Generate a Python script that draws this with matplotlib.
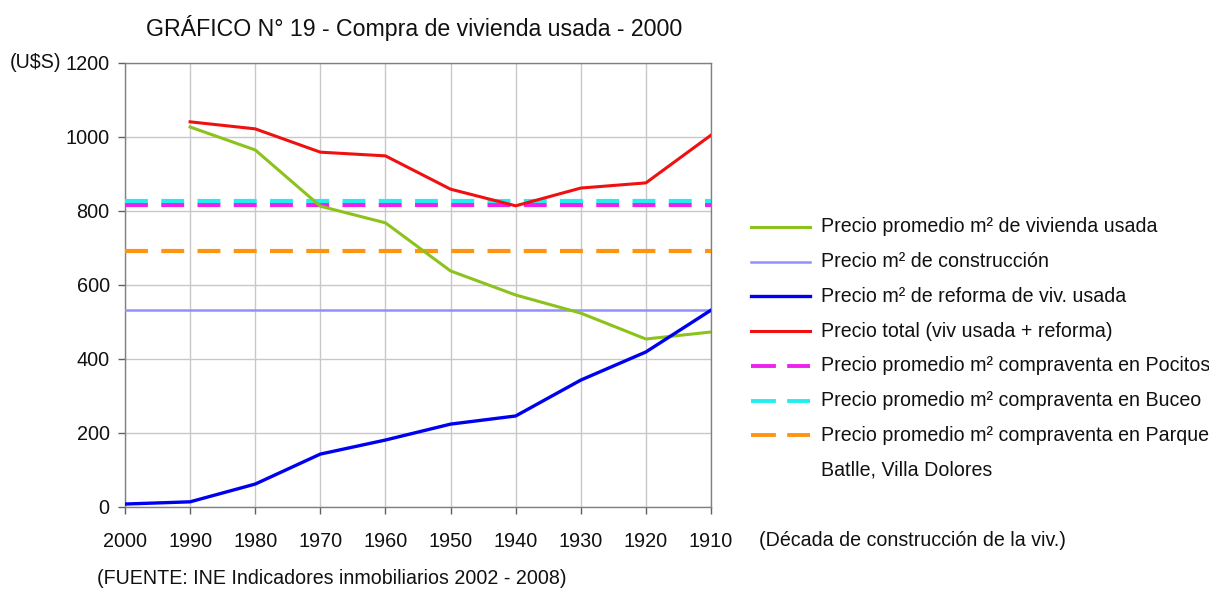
import matplotlib
matplotlib.use("Agg")
import matplotlib.pyplot as plt
from matplotlib.lines import Line2D

plt.rcParams['font.family'] = ['Liberation Sans', 'DejaVu Sans']

# Decade of construction (categorical axis, newest to oldest)
decades = ["2000", "1990", "1980", "1970", "1960", "1950", "1940", "1930", "1920", "1910"]

# Average price per m2 of used housing (starts at 1990)
precio_usada = [None, 1027, 965, 813, 768, 638, 573, 524, 454, 473]
# Price per m2 of renovation of used housing
precio_reforma = [8, 14, 62, 143, 181, 224, 246, 343, 419, 532]
# Total price (used housing + renovation, starts at 1990)
precio_total = [None, 1041, 1022, 959, 949, 859, 814, 862, 876, 1005]

# Constant reference levels
precio_construccion = 532
compraventa_pocitos = 816
compraventa_buceo = 827
compraventa_parque_batlle = 692

yticks = [0, 200, 400, 600, 800, 1000, 1200]

W, H = 1209, 589
fig = plt.figure(figsize=(W / 100, H / 100), dpi=100)
ax = fig.add_axes([125 / W, 1 - 507 / H, (711 - 125) / W, (507 - 63) / H])

x = list(range(len(decades)))
n = len(decades)

def valid(series):
    pts = [(i, v) for i, v in zip(x, series) if v is not None]
    return [p[0] for p in pts], [p[1] for p in pts]

c_green = "#8cc21c"
c_constr = "#9090ff"
c_blue = "#0000f0"
c_red = "#f01010"
c_mag = "#ee22ee"
c_cyan = "#22eeee"
c_orange = "#ff9410"

dash = (5.5, 3.2)

ax.plot([0, n - 1], [precio_construccion] * 2, color=c_constr, lw=1.8, zorder=3)
ax.plot([0, n - 1], [compraventa_parque_batlle] * 2, color=c_orange, lw=3.0,
        dashes=dash, zorder=3)
ax.plot([0, n - 1], [compraventa_pocitos] * 2, color=c_mag, lw=3.0,
        dashes=dash, zorder=3)
ax.plot([0, n - 1], [compraventa_buceo] * 2, color=c_cyan, lw=3.0,
        dashes=dash, zorder=3)

gx, gy = valid(precio_usada)
ax.plot(gx, gy, color=c_green, lw=2.2, zorder=4)
ax.plot(x, precio_reforma, color=c_blue, lw=2.4, zorder=4)
rx, ry = valid(precio_total)
ax.plot(rx, ry, color=c_red, lw=2.2, zorder=4)

ax.set_xlim(0, n - 1)
ax.set_ylim(0, 1200)
ax.set_xticks(x)
ax.set_xticklabels(decades)
ax.set_yticks(yticks)
ax.set_yticklabels([str(v) for v in yticks])
ax.grid(True, color="#c8c8c8", lw=1.0)
ax.set_axisbelow(True)
for s in ax.spines.values():
    s.set_color("#808080")
    s.set_linewidth(1.0)
ax.tick_params(axis="both", direction="out", length=5, width=1, color="#606060",
               labelsize=14.3, labelcolor="#111111")
ax.tick_params(axis="x", pad=13)
ax.tick_params(axis="y", pad=6)

fs = 14.1
fig.text(414 / W, 1 - 28 / H, "GRÁFICO N° 19 - Compra de vivienda usada - 2000",
         ha="center", va="center", fontsize=16.7, color="#111111")
fig.text(10 / W, 1 - 62 / H, "(U$S)", ha="left", va="center", fontsize=fs, color="#111111")
fig.text(759 / W, 1 - 540 / H, "(Década de construcción de la viv.)", ha="left",
         va="center", fontsize=fs, color="#111111")
fig.text(97 / W, 1 - 578 / H, "(FUENTE: INE Indicadores inmobiliarios 2002 - 2008)",
         ha="left", va="center", fontsize=fs, color="#111111")

# Legend drawn in figure pixel coordinates
leg_dash = (6.4, 2.9)
legend_rows = [
    ("Precio promedio m² de vivienda usada", c_green, None, 2.2),
    ("Precio m² de construcción", c_constr, None, 1.8),
    ("Precio m² de reforma de viv. usada", c_blue, None, 2.4),
    ("Precio total (viv usada + reforma)", c_red, None, 2.2),
    ("Precio promedio m² compraventa en Pocitos", c_mag, leg_dash, 2.8),
    ("Precio promedio m² compraventa en Buceo", c_cyan, leg_dash, 2.8),
    ("Precio promedio m² compraventa en Parque", c_orange, leg_dash, 2.8),
]
y0 = 227
dy = 34.7
for i, (label, col, ds, lw) in enumerate(legend_rows):
    yy = 1 - (y0 + i * dy) / H
    kw = dict(color=col, lw=lw, transform=fig.transFigure)
    if ds is not None:
        kw["dashes"] = ds
    fig.add_artist(Line2D([751 / W, 810 / W], [yy, yy], **kw))
    fig.text(821 / W, yy, label, ha="left", va="center", fontsize=fs, color="#111111")
fig.text(821 / W, 1 - (y0 + 7 * dy) / H, "Batlle, Villa Dolores", ha="left",
         va="center", fontsize=fs, color="#111111")

fig.savefig("out.png", dpi=100, facecolor="white")
